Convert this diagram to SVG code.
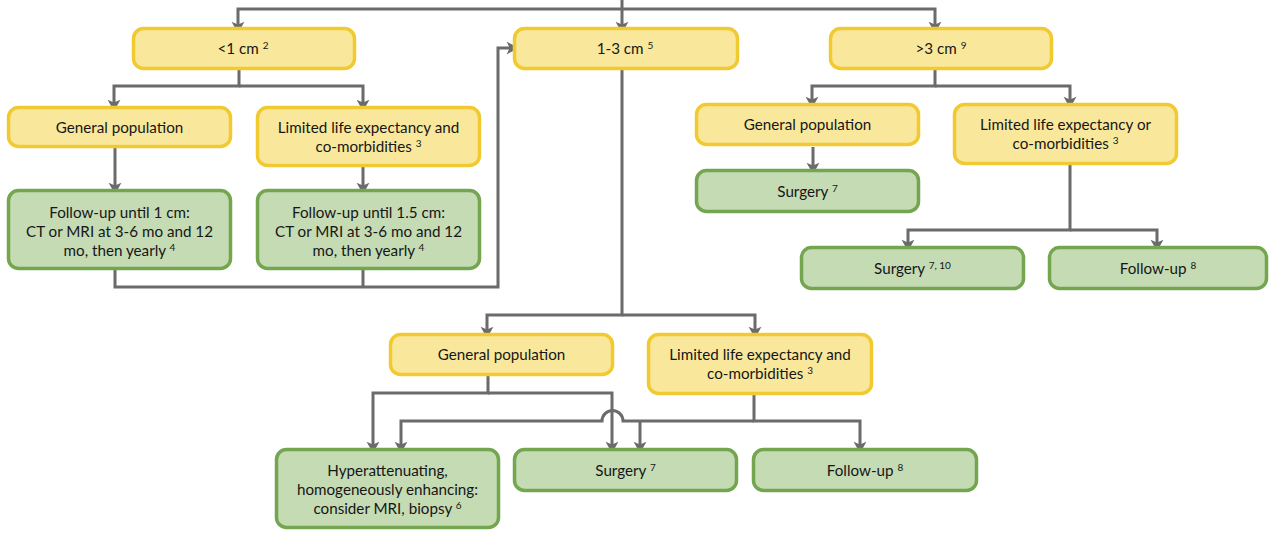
<svg xmlns="http://www.w3.org/2000/svg" width="1269" height="535" viewBox="0 0 1269 535">
<style>
.y{fill:#F9E89C;stroke:#F1C930;stroke-width:3.5}
.g{fill:#C5DBB4;stroke:#74A64F;stroke-width:3.5}
text{font-family:Lato,"Open Sans","Liberation Sans",sans-serif;font-size:15.2px;fill:#161616;text-anchor:middle}
.s{font-size:10px}
.c path{fill:none;stroke:#6B6B6B;stroke-width:3}
</style>
<defs>
<marker id="a" markerUnits="userSpaceOnUse" markerWidth="14" markerHeight="14" refX="9" refY="6" orient="auto" viewBox="0 0 12 12">
<path d="M1,0.5 L11,6 L1,11.5 L3.5,6 Z" fill="#6B6B6B"/>
</marker>
</defs>
<g class="c" id="connectors">
<path d="M622,0 V31" marker-end="url(#a)"/>
<path d="M622,9 H238 V31" marker-end="url(#a)"/>
<path d="M622,9 H935 V31" marker-end="url(#a)"/>
<path d="M239,70 V86 H114 V109" marker-end="url(#a)"/>
<path d="M239,86 H363 V109" marker-end="url(#a)"/>
<path d="M115,148 V192" marker-end="url(#a)"/>
<path d="M363,167 V192" marker-end="url(#a)"/>
<path d="M115,270 V287 H498 V48 H516" marker-end="url(#a)"/>
<path d="M363,270 V287"/>
<path d="M622,70 V315 H487 V336" marker-end="url(#a)"/>
<path d="M622,315 H755 V336" marker-end="url(#a)"/>
<path d="M488,376 V393 H373 V451" marker-end="url(#a)"/>
<path d="M488,393 H612 V451" marker-end="url(#a)"/>
<path d="M754,395 V421 H860 V451" marker-end="url(#a)"/>
<path d="M754,421 H623 A10.5,10.5 0 0 0 602,421 H401 V451" marker-end="url(#a)"/>
<path d="M640,421 V451" marker-end="url(#a)"/>
<path d="M935,70 V86 H812 V106" marker-end="url(#a)"/>
<path d="M935,86 H1070 V106" marker-end="url(#a)"/>
<path d="M813,147 V172" marker-end="url(#a)"/>
<path d="M1070,165 V230 H908 V249" marker-end="url(#a)"/>
<path d="M1070,230 H1157 V249" marker-end="url(#a)"/>
</g>
<g id="n_lt1"><rect class="y" x="133.5" y="28.5" width="221" height="40" rx="10"/><text x="243" y="53.5">&lt;1 cm <tspan class="s" dy="-5">2</tspan></text></g>
<g id="n_1to3"><rect class="y" x="514.5" y="28.5" width="223" height="40" rx="10"/><text x="625" y="53.5">1-3 cm <tspan class="s" dy="-5">5</tspan></text></g>
<g id="n_gt3"><rect class="y" x="830.5" y="28.5" width="221" height="40" rx="10"/><text x="941" y="53.5">&gt;3 cm <tspan class="s" dy="-5">9</tspan></text></g>
<g id="n_lt1_gen"><rect class="y" x="8.5" y="107.5" width="222" height="39" rx="10"/><text x="119.5" y="132.5">General population</text></g>
<g id="n_lt1_lim"><rect class="y" x="257.5" y="107.5" width="222" height="58" rx="10"/><text x="368.5" y="133">Limited life expectancy and</text><text x="368.5" y="152">co-morbidities <tspan class="s" dy="-5">3</tspan></text></g>
<g id="n_lt1_fu1"><rect class="g" x="8.5" y="190.5" width="222" height="78" rx="10"/><text x="119.5" y="218">Follow-up until 1 cm:</text><text x="119.5" y="237">CT or MRI at 3-6 mo and 12</text><text x="119.5" y="255.5">mo, then yearly <tspan class="s" dy="-5">4</tspan></text></g>
<g id="n_lt1_fu2"><rect class="g" x="257.5" y="190.5" width="222" height="78" rx="10"/><text x="368.5" y="218">Follow-up until 1.5 cm:</text><text x="368.5" y="237">CT or MRI at 3-6 mo and 12</text><text x="368.5" y="255.5">mo, then yearly <tspan class="s" dy="-5">4</tspan></text></g>
<g id="n_gt3_gen"><rect class="y" x="696.5" y="104.5" width="222" height="40" rx="10"/><text x="807.5" y="130">General population</text></g>
<g id="n_gt3_lim"><rect class="y" x="954.5" y="104.5" width="222" height="59" rx="10"/><text x="1065.5" y="130">Limited life expectancy or</text><text x="1065.5" y="149">co-morbidities <tspan class="s" dy="-5">3</tspan></text></g>
<g id="n_gt3_surg"><rect class="g" x="696.5" y="170.5" width="222" height="41" rx="10"/><text x="807.5" y="196.5">Surgery <tspan class="s" dy="-5">7</tspan></text></g>
<g id="n_gt3_surg2"><rect class="g" x="801.5" y="247.5" width="222" height="41" rx="10"/><text x="912.5" y="273.5">Surgery <tspan class="s" dy="-5">7, 10</tspan></text></g>
<g id="n_gt3_fu"><rect class="g" x="1049.5" y="247.5" width="217" height="41" rx="10"/><text x="1158" y="273.5">Follow-up <tspan class="s" dy="-5">8</tspan></text></g>
<g id="n_13_gen"><rect class="y" x="390.5" y="334.5" width="222" height="40" rx="10"/><text x="501.5" y="360">General population</text></g>
<g id="n_13_lim"><rect class="y" x="648.5" y="334.5" width="223" height="59" rx="10"/><text x="760" y="360">Limited life expectancy and</text><text x="760" y="379">co-morbidities <tspan class="s" dy="-5">3</tspan></text></g>
<g id="n_13_hyper"><rect class="g" x="276.5" y="449.5" width="222" height="78" rx="10"/><text x="387.5" y="476">Hyperattenuating,</text><text x="387.5" y="495">homogeneously enhancing:</text><text x="387.5" y="514">consider MRI, biopsy <tspan class="s" dy="-5">6</tspan></text></g>
<g id="n_13_surg"><rect class="g" x="514.5" y="449.5" width="222" height="41" rx="10"/><text x="625.5" y="475.5">Surgery <tspan class="s" dy="-5">7</tspan></text></g>
<g id="n_13_fu"><rect class="g" x="753.5" y="449.5" width="223" height="41" rx="10"/><text x="865" y="475.5">Follow-up <tspan class="s" dy="-5">8</tspan></text></g>
</svg>
